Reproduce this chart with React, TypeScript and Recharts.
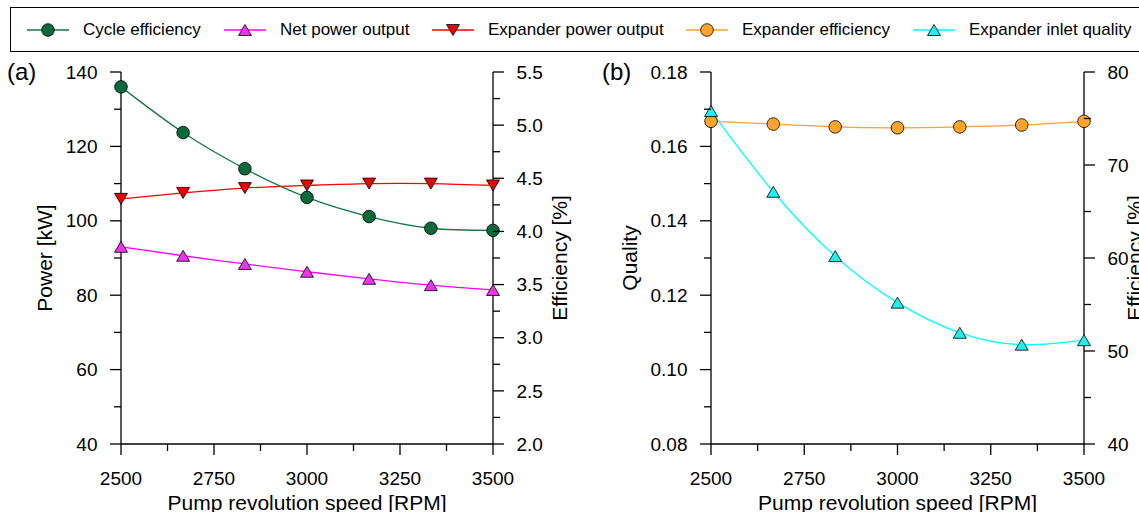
import React from "react";
import { LineChart, Line, XAxis, YAxis, Label } from "recharts";

// pump revolution speed [RPM]
const rpm = [2500, 2667, 2833, 3000, 3167, 3333, 3500];

// panel (a)
const cycleEfficiency = [5.36, 4.93, 4.59, 4.32, 4.14, 4.03, 4.01];
const netPowerOutput = [93.0, 90.6, 88.4, 86.3, 84.4, 82.7, 81.4];
const expanderPowerOutput = [105.9, 107.5, 108.8, 109.5, 110.0, 110.0, 109.5];

// panel (b)
const expanderEfficiency = [74.7, 74.4, 74.1, 74.0, 74.1, 74.3, 74.7];
const expanderInletQuality = [0.1695, 0.1478, 0.1305, 0.118, 0.1099, 0.1067, 0.1079];

// ticks
const rpmTicks = [2500, 2750, 3000, 3250, 3500];
const rpmMinor = [2625, 2875, 3125, 3375];
const powerTicks = [40, 60, 80, 100, 120, 140];
const powerMinor = [50, 70, 90, 110, 130];
const cycleEffTicks = [2.0, 2.5, 3.0, 3.5, 4.0, 4.5, 5.0, 5.5];
const cycleEffMinor = [2.25, 2.75, 3.25, 3.75, 4.25, 4.75, 5.25];
const qualityTicks = [0.08, 0.1, 0.12, 0.14, 0.16, 0.18];
const qualityMinor = [0.09, 0.11, 0.13, 0.15, 0.17];
const expEffTicks = [40, 50, 60, 70, 80];
const expEffMinor = [45, 55, 65, 75];

const FONT = '"Liberation Sans", Arial, sans-serif';

const C_GREEN = "#117a45";
const C_GREEN_FILL = "#0a6a3a";
const C_MAGENTA = "#ff00ff";
const C_MAGENTA_FILL = "#ee33ee";
const C_RED = "#ff0000";
const C_RED_FILL = "#ee0000";
const C_ORANGE = "#ffa033";
const C_ORANGE_FILL = "#ffa329";
const C_CYAN = "#00ffff";
const C_CYAN_FILL = "#22eeee";

const dataA = rpm.map((r, i) => ({
  rpm: r,
  cycleEff: cycleEfficiency[i],
  netPower: netPowerOutput[i],
  expPower: expanderPowerOutput[i],
}));

const dataB = rpm.map((r, i) => ({
  rpm: r,
  expEff: expanderEfficiency[i],
  quality: expanderInletQuality[i],
}));

type Side = "left" | "right" | "bottom";

const axisTick = (side: Side, majors: number[], digits: number) => (props: any) => {
  const { x, y, payload } = props;
  const v = Number(payload.value);
  const isMajor = majors.some((m) => Math.abs(m - v) < 1e-6);
  const len = isMajor ? 11 : 7;
  if (side === "bottom") {
    return (
      <g>
        <line x1={x} y1={y} x2={x} y2={y + len} stroke="#000" strokeWidth={1.3} />
        {isMajor && (
          <text x={x} y={y + 41} textAnchor="middle" fontSize={19} fill="#000">
            {v.toFixed(digits)}
          </text>
        )}
      </g>
    );
  }
  const dir = side === "left" ? -1 : 1;
  return (
    <g>
      <line x1={x} y1={y} x2={x + dir * len} y2={y} stroke="#000" strokeWidth={1.3} />
      {isMajor && (
        <text
          x={x + dir * 23.5}
          y={y}
          dy="0.35em"
          textAnchor={side === "left" ? "end" : "start"}
          fontSize={19}
          fill="#000"
        >
          {v.toFixed(digits)}
        </text>
      )}
    </g>
  );
};

const triangleDot = (fill: string, up: boolean) => (p: any) => {
  const { cx, cy, index } = p;
  if (cx == null || cy == null) return <g key={`t${index}`} />;
  const h = 5.5;
  const w = 6.5;
  const pts = up
    ? `${cx},${cy - h} ${cx + w},${cy + h} ${cx - w},${cy + h}`
    : `${cx - w},${cy - h} ${cx + w},${cy - h} ${cx},${cy + h}`;
  return <polygon key={`t${index}`} points={pts} fill={fill} stroke="#000" strokeWidth={0.8} />;
};

const circleDot = (fill: string) => ({ r: 6.3, fill, stroke: "#000", strokeWidth: 0.8 });

const axisLine = { stroke: "#000", strokeWidth: 1.3 };

type LegendItem = { name: string; color: string; fill: string; marker: "circle" | "up" | "down"; left: number };

const legendItems: LegendItem[] = [
  { name: "Cycle efficiency", color: C_GREEN, fill: C_GREEN_FILL, marker: "circle", left: 27 },
  { name: "Net power output", color: C_MAGENTA, fill: C_MAGENTA_FILL, marker: "up", left: 224 },
  { name: "Expander power output", color: C_RED, fill: C_RED_FILL, marker: "down", left: 432 },
  { name: "Expander efficiency", color: C_ORANGE, fill: C_ORANGE_FILL, marker: "circle", left: 686 },
  { name: "Expander inlet quality", color: C_CYAN, fill: C_CYAN_FILL, marker: "up", left: 913 },
];

const LegendIcon = ({ item }: { item: LegendItem }) => (
  <svg width={42} height={16} style={{ position: "absolute", left: item.left, top: 22 }}>
    <line x1={0} y1={8} x2={42} y2={8} stroke={item.color} strokeWidth={1.5} />
    {item.marker === "circle" && (
      <circle cx={21} cy={8} r={6.3} fill={item.fill} stroke="#000" strokeWidth={0.8} />
    )}
    {item.marker === "up" && (
      <polygon points="21,2.5 27.5,13.5 14.5,13.5" fill={item.fill} stroke="#000" strokeWidth={0.8} />
    )}
    {item.marker === "down" && (
      <polygon points="14.5,2.5 27.5,2.5 21,13.5" fill={item.fill} stroke="#000" strokeWidth={0.8} />
    )}
  </svg>
);

export default function App() {
  return (
    <div style={{ position: "relative", width: 1139, height: 512, overflow: "hidden", fontFamily: FONT, background: "#fff" }}>
      <style>{"body{margin:0}"}</style>

      <div
        style={{
          position: "absolute",
          left: 10,
          top: 7,
          width: 1140,
          height: 43,
          border: "1px solid #000",
        }}
      />
      {legendItems.map((item) => (
        <React.Fragment key={item.name}>
          <LegendIcon item={item} />
          <div
            style={{
              position: "absolute",
              left: item.left + 56,
              top: 20,
              fontSize: 17,
              lineHeight: "20px",
              whiteSpace: "nowrap",
              color: "#000",
            }}
          >
            {item.name}
          </div>
        </React.Fragment>
      ))}

      <div style={{ position: "absolute", left: 7, top: 60, fontSize: 24, lineHeight: "24px" }}>(a)</div>
      <div style={{ position: "absolute", left: 602, top: 60, fontSize: 24, lineHeight: "24px" }}>(b)</div>

      <div style={{ position: "absolute", left: 0, top: 0 }}>
        <LineChart width={580} height={512} data={dataA} margin={{ top: 72, right: 0, bottom: 0, left: 0 }}>
          <XAxis
            dataKey="rpm"
            type="number"
            domain={[2500, 3500]}
            ticks={[...rpmTicks, ...rpmMinor].sort((a, b) => a - b)}
            interval={0}
            height={68}
            tickSize={0}
            tickMargin={0}
            axisLine={axisLine}
            tickLine={false}
            tick={axisTick("bottom", rpmTicks, 0)}
          >
            <Label value="Pump revolution speed [RPM]" position="insideBottom" offset={2} fontSize={21} fill="#000" />
          </XAxis>
          <YAxis
            yAxisId="power"
            type="number"
            domain={[40, 140]}
            ticks={[...powerTicks, ...powerMinor].sort((a, b) => a - b)}
            interval={0}
            width={121}
            tickSize={0}
            tickMargin={0}
            axisLine={axisLine}
            tickLine={false}
            tick={axisTick("left", powerTicks, 0)}
          >
            <Label value="Power [kW]" angle={-90} position="insideLeft" offset={45} fontSize={21} fill="#000" style={{ textAnchor: "middle" }} />
          </YAxis>
          <YAxis
            yAxisId="eff"
            orientation="right"
            type="number"
            domain={[2, 5.5]}
            ticks={[...cycleEffTicks, ...cycleEffMinor].sort((a, b) => a - b)}
            interval={0}
            width={87}
            tickSize={0}
            tickMargin={0}
            axisLine={axisLine}
            tickLine={false}
            tick={axisTick("right", cycleEffTicks, 1)}
          >
            <Label value="Efficiency [%]" angle={-90} position="insideRight" offset={20} fontSize={21} fill="#000" style={{ textAnchor: "middle" }} />
          </YAxis>
          <Line
            yAxisId="power"
            dataKey="netPower"
            type="natural"
            stroke={C_MAGENTA}
            strokeWidth={1.3}
            dot={triangleDot(C_MAGENTA_FILL, true)}
            isAnimationActive={false}
          />
          <Line
            yAxisId="power"
            dataKey="expPower"
            type="natural"
            stroke={C_RED}
            strokeWidth={1.3}
            dot={triangleDot(C_RED_FILL, false)}
            isAnimationActive={false}
          />
          <Line
            yAxisId="eff"
            dataKey="cycleEff"
            type="natural"
            stroke={C_GREEN}
            strokeWidth={1.3}
            dot={circleDot(C_GREEN_FILL)}
            isAnimationActive={false}
          />
        </LineChart>
      </div>

      <div style={{ position: "absolute", left: 580, top: 0 }}>
        <LineChart width={559} height={512} data={dataB} margin={{ top: 72, right: 0, bottom: 0, left: 0 }}>
          <XAxis
            dataKey="rpm"
            type="number"
            domain={[2500, 3500]}
            ticks={[...rpmTicks, ...rpmMinor].sort((a, b) => a - b)}
            interval={0}
            height={68}
            tickSize={0}
            tickMargin={0}
            axisLine={axisLine}
            tickLine={false}
            tick={axisTick("bottom", rpmTicks, 0)}
          >
            <Label value="Pump revolution speed [RPM]" position="insideBottom" offset={2} fontSize={21} fill="#000" />
          </XAxis>
          <YAxis
            yAxisId="quality"
            type="number"
            domain={[0.08, 0.18]}
            ticks={[...qualityTicks, ...qualityMinor].sort((a, b) => a - b)}
            interval={0}
            width={131}
            tickSize={0}
            tickMargin={0}
            axisLine={axisLine}
            tickLine={false}
            tick={axisTick("left", qualityTicks, 2)}
          >
            <Label value="Quality" angle={-90} position="insideLeft" offset={50} fontSize={21} fill="#000" style={{ textAnchor: "middle" }} />
          </YAxis>
          <YAxis
            yAxisId="eff"
            orientation="right"
            type="number"
            domain={[40, 80]}
            ticks={[...expEffTicks, ...expEffMinor].sort((a, b) => a - b)}
            interval={0}
            width={55}
            tickSize={0}
            tickMargin={0}
            axisLine={axisLine}
            tickLine={false}
            tick={axisTick("right", expEffTicks, 0)}
          >
            <Label value="Efficiency [%]" angle={-90} position="insideRight" offset={4} fontSize={21} fill="#000" style={{ textAnchor: "middle" }} />
          </YAxis>
          <Line
            yAxisId="eff"
            dataKey="expEff"
            type="natural"
            stroke={C_ORANGE}
            strokeWidth={1.3}
            dot={circleDot(C_ORANGE_FILL)}
            isAnimationActive={false}
          />
          <Line
            yAxisId="quality"
            dataKey="quality"
            type="natural"
            stroke={C_CYAN}
            strokeWidth={1.3}
            dot={triangleDot(C_CYAN_FILL, true)}
            isAnimationActive={false}
          />
        </LineChart>
      </div>
    </div>
  );
}
